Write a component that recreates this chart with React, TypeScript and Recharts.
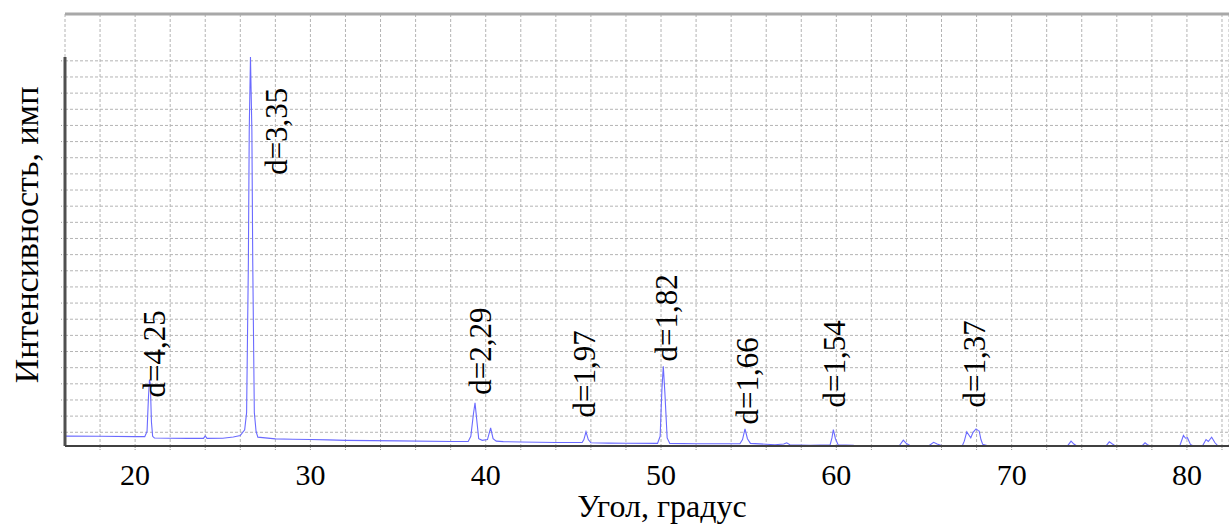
import React from 'react';
import { ComposedChart, Line, Scatter, XAxis, YAxis, CartesianGrid, ReferenceLine } from 'recharts';

// XRD scan, [angle 2θ, counts]
const scanLow: [number, number][] = [
  [16, 61], [18, 60], [20, 58], [20.55, 58], [20.68, 90], [20.76, 300], [20.82, 411],
  [20.87, 380], [20.93, 150], [21.0, 60], [21.1, 50], [22, 48], [23, 47], [23.9, 47],
  [24.0, 62], [24.1, 47], [25, 48], [25.6, 56], [26.0, 65], [26.25, 100], [26.36, 207],
  [26.46, 1135], [26.51, 1957], [26.58, 2409], [26.66, 1957], [26.71, 1135], [26.8, 207],
  [26.9, 90], [27.0, 55], [28, 44], [29, 42], [30, 40],
];
const scanMid: [number, number][] = [
  [31, 38], [32, 35], [35, 32], [38, 28], [39.0, 28], [39.15, 60], [39.3, 200], [39.39, 267],
  [39.48, 170], [39.6, 45], [39.8, 35], [40.1, 40], [40.28, 112], [40.42, 45], [40.6, 30],
  [41, 27], [42, 25], [44, 22], [45.5, 22], [45.6, 40], [45.72, 88], [45.85, 40], [46.0, 20],
  [47, 18], [48, 17], [49.8, 16], [49.95, 60], [50.05, 350], [50.13, 494], [50.22, 330],
  [50.35, 50], [50.5, 16], [52, 14], [54.5, 14], [54.65, 40], [54.79, 106], [54.93, 45], [55.1, 16],
];
const scanHigh: [number, number][] = [
  [56.5, 8], [57.0, 12], [57.17, 20], [57.35, 8], [58.5, 5], [59.65, 8], [59.75, 50],
  [59.83, 102], [59.95, 45], [60.1, 8], [61, 4], [62, 3], [63.6, 3], [63.82, 36], [64.0, 15],
  [64.2, 3], [65.3, 3], [65.55, 23], [65.75, 12], [66.0, 3], [67.2, 5], [67.3, 30], [67.44, 88],
  [67.55, 70], [67.67, 51], [67.8, 85], [67.97, 106], [68.1, 95], [68.15, 92], [68.25, 40],
  [68.35, 10], [68.6, 3], [73.2, 2], [73.39, 30], [73.55, 12], [73.7, 2], [75.4, 2], [75.57, 26],
  [75.75, 12], [75.9, 2], [77.45, 2], [77.61, 20], [77.75, 8], [77.9, 2], [79.6, 3], [79.8, 65],
  [79.92, 48], [80.03, 51], [80.2, 10], [80.35, 2], [80.9, 3], [81.09, 40], [81.22, 28],
  [81.41, 54], [81.6, 20], [81.75, 3], [82.4, 3],
];

const peakLabels = ['d=4,25', 'd=3,35', 'd=2,29', 'd=1,97', 'd=1,82', 'd=1,66', 'd=1,54', 'd=1,37'];
const labelAngles = [21.08, 28.07, 39.7, 45.64, 50.31, 54.93, 59.92, 67.91];
const labelCounts = [300, 1679, 318, 176, 523, 133, 238, 238];

const xTicks = [18, 20, 22, 24, 26, 28, 30, 32, 34, 36, 38, 40, 42, 44, 46, 48, 50, 52, 54, 56, 58,
  60, 62, 64, 66, 68, 70, 72, 74, 76, 78, 80, 82];
const yTicks = [85, 185, 285, 385, 485, 585, 685, 785, 885, 985, 1085, 1185, 1285, 1385, 1485,
  1585, 1685, 1785, 1885, 1985, 2085, 2185, 2285, 2385];

const scan = [...scanLow, ...scanMid, ...scanHigh].map(([angle, counts]) => ({ angle, counts }));
const peaks = peakLabels.map((text, i) => ({ angle: labelAngles[i], counts: labelCounts[i], text }));
const yMax = Math.max(...scan.map((p) => p.counts));

const FONT = '"Liberation Serif", "Times New Roman", serif';
const serif = { fontFamily: FONT };

const PeakLabel = (props: any) => {
  const { cx, cy, payload } = props;
  return (
    <text x={cx} y={cy} transform={`rotate(-90 ${cx} ${cy})`} textAnchor="start"
      dominantBaseline="central" fontSize={31} style={serif} fill="#000">
      {payload.text}
    </text>
  );
};

const XTick = (props: any) => {
  const { x, y, payload } = props;
  if (payload.value % 10 !== 0) return null;
  return (
    <text x={x} y={y + 20} textAnchor="middle" fontSize={30} style={serif} fill="#000">
      {payload.value}
    </text>
  );
};

const YTitle = (props: any) => {
  const { x, y, height } = props.viewBox;
  const cx = x + 26;
  const cy = y + height / 2 + 5;
  return (
    <text x={cx} y={cy} transform={`rotate(-90 ${cx} ${cy})`} textAnchor="middle"
      dominantBaseline="central" fontSize={34} style={serif} fill="#000">
      Интенсивность, имп
    </text>
  );
};

const XTitle = (props: any) => {
  const { x, y, width } = props.viewBox;
  return (
    <text x={x + width / 2 + 15} y={y + 71} textAnchor="middle" fontSize={32} style={serif} fill="#000">
      Угол, градус
    </text>
  );
};

export default function App() {
  return (
    <div style={{ position: 'absolute', left: 0, top: 0, background: '#fff', fontFamily: FONT }}>
      <ComposedChart width={1229} height={524} data={scan} margin={{ top: 14, right: 0, bottom: 0, left: 0 }}>
        <CartesianGrid stroke="#b4b4b4" strokeDasharray="3 2" />
        <XAxis dataKey="angle" type="number" domain={[16, 82.4]} ticks={xTicks} allowDataOverflow
          height={78} tickSize={4} tickMargin={15}
          axisLine={{ stroke: '#404040', strokeWidth: 2 }}
          tickLine={{ stroke: '#9a9a9a', strokeDasharray: '1 1' }}
          tick={<XTick />}
          label={<XTitle />} />
        <YAxis type="number" domain={[0, 2675]} ticks={yTicks} allowDataOverflow width={65}
          axisLine={false} tickSize={4}
          tickLine={{ stroke: '#9a9a9a', strokeDasharray: '1 1' }}
          tickFormatter={() => ''}
          label={<YTitle />} />
        <ReferenceLine y={2675} stroke="#a8a8a8" strokeWidth={3} />
        <Line dataKey="counts" type="linear" stroke="#6a6aff" strokeWidth={1.1} dot={false}
          isAnimationActive={false} />
        <ReferenceLine segment={[{ x: 16, y: 0 }, { x: 16, y: yMax }]} stroke="#505050" strokeWidth={3} />
        <Scatter data={peaks} dataKey="counts" shape={<PeakLabel />} isAnimationActive={false} />
      </ComposedChart>
    </div>
  );
}
